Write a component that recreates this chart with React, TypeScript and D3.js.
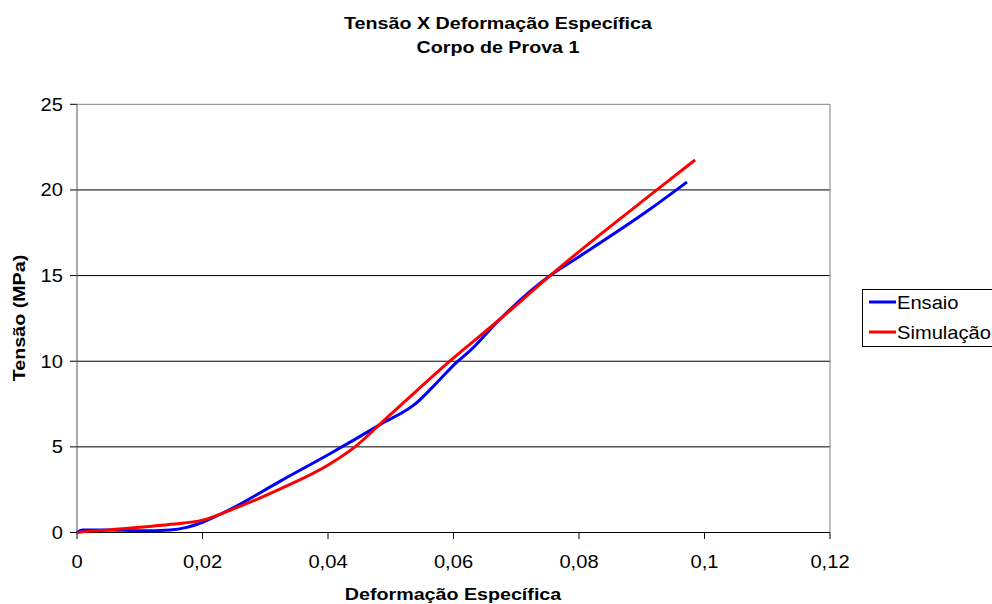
import React from "react";
import * as d3 from "d3";

const ensaioX = [0, 0.0008, 0.005, 0.01, 0.0148, 0.0175, 0.02, 0.0244, 0.0324, 0.0403, 0.0483, 0.0542, 0.0567, 0.0607, 0.0626, 0.0674, 0.0754, 0.08, 0.0914, 0.0972];
const ensaioY = [0, 0.15, 0.15, 0.1, 0.15, 0.3, 0.6, 1.35, 3.0, 4.6, 6.3, 7.6, 8.5, 10.0, 10.6, 12.45, 15.0, 16.1, 18.9, 20.46];

const simX = [0, 0.002, 0.005, 0.01, 0.015, 0.02, 0.0244, 0.0324, 0.0403, 0.0443, 0.0488, 0.0542, 0.0594, 0.0674, 0.0754, 0.08, 0.0924, 0.0985];
const simY = [0, 0.08, 0.15, 0.3, 0.48, 0.72, 1.3, 2.55, 4.0, 5.0, 6.5, 8.3, 10.0, 12.45, 15.0, 16.4, 20.0, 21.75];

const xTicks = [0, 0.02, 0.04, 0.06, 0.08, 0.1, 0.12];
const yTicks = [0, 5, 10, 15, 20, 25];

const seriesNames = ["Ensaio", "Simulação"];
const seriesColors = ["#0000FF", "#FF0000"];

const fmt = (v: number) => String(v).replace(".", ",");

function T(props: { x: number; y: number; sx: number; size: number; bold?: boolean; anchor?: string; rot?: number; children: React.ReactNode }) {
  const { x, y, sx, size, bold, anchor, rot, children } = props;
  const tr = `translate(${x},${y})${rot ? ` rotate(${rot})` : ""} scale(${sx},1)`;
  return (
    <text transform={tr} textAnchor={anchor || "start"} fontSize={size} fontWeight={bold ? "bold" : "normal"}>
      {children}
    </text>
  );
}

export default function App() {
  const W = 992, H = 604;
  const x = d3.scaleLinear().domain([0, 0.12]).range([77, 830]);
  const y = d3.scaleLinear().domain([0, 25]).range([532.5, 104.3]);
  const line = d3
    .line<[number, number]>()
    .x((d) => x(d[0]))
    .y((d) => y(d[1]))
    .curve(d3.curveMonotoneX);
  const ens: [number, number][] = ensaioX.map((v, i) => [v, ensaioY[i]]);
  const sim: [number, number][] = simX.map((v, i) => [v, simY[i]]);
  const font = "Liberation Sans, Arial, sans-serif";
  const tsx = 1.15;
  const bsx = 1.23;
  return (
    <svg width={W} height={H} style={{ position: "absolute", left: 0, top: 0 }} fontFamily={font}>
      <rect width={W} height={H} fill="#fff" />
      <T x={498} y={29} sx={bsx} size={16} bold anchor="middle">Tensão X Deformação Específica</T>
      <T x={498} y={53} sx={bsx} size={16} bold anchor="middle">Corpo de Prova 1</T>
      {yTicks.map((t) => (
        <g key={t}>
          {t > 0 && <line x1={77} x2={830} y1={y(t)} y2={y(t)} stroke={t === 25 ? "#808080" : "#000"} strokeWidth={1} />}
          <line x1={70} x2={77} y1={y(t)} y2={y(t)} stroke="#000" />
          <T x={63} y={y(t) + 6.5} sx={tsx} size={17.5} anchor="end">{t}</T>
        </g>
      ))}
      <line x1={830} x2={830} y1={104.3} y2={532.5} stroke="#808080" />
      <line x1={77} x2={77} y1={104.3} y2={532.5} stroke="#555" />
      <line x1={77} x2={830} y1={532.5} y2={532.5} stroke="#000" />
      {xTicks.map((t) => (
        <g key={t}>
          <line x1={x(t)} x2={x(t)} y1={532.5} y2={539} stroke="#000" />
          <T x={x(t)} y={568} sx={tsx} size={17.5} anchor="middle">{fmt(t)}</T>
        </g>
      ))}
      <path d={line(ens) || ""} fill="none" stroke={seriesColors[0]} strokeWidth={3} strokeLinejoin="round" />
      <path d={line(sim) || ""} fill="none" stroke={seriesColors[1]} strokeWidth={3} strokeLinejoin="round" />
      <T x={453} y={600} sx={bsx} size={16} bold anchor="middle">Deformação Específica</T>
      <T x={25} y={318} sx={bsx} size={16} bold anchor="middle" rot={-90}>Tensão (MPa)</T>
      <rect x={862.5} y={289.5} width={140} height={57} fill="#fff" stroke="#000" />
      {seriesNames.map((n, i) => (
        <g key={n}>
          <line x1={869} x2={896} y1={302 + i * 30} y2={302 + i * 30} stroke={seriesColors[i]} strokeWidth={3} />
          <T x={897} y={308.5 + i * 30} sx={tsx} size={17.5}>{n}</T>
        </g>
      ))}
    </svg>
  );
}
